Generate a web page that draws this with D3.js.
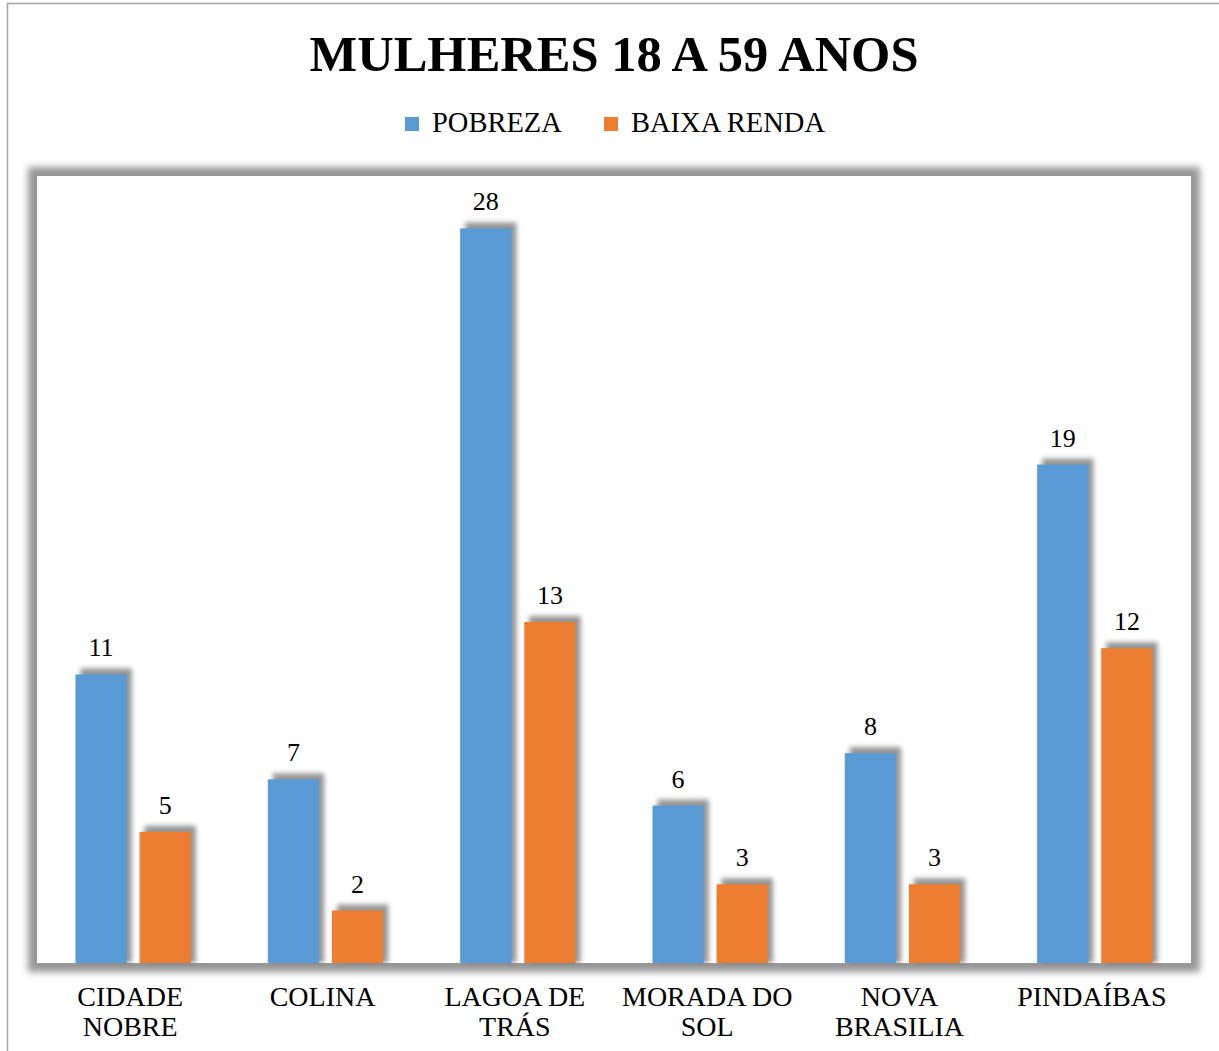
<!DOCTYPE html>
<html>
<head>
<meta charset="utf-8">
<script src="https://cdn.jsdelivr.net/npm/d3@7"></script>
<style>
  body { margin: 0; background: #fff; }
  svg text { font-family: "Liberation Serif", "Times New Roman", serif !important; fill: #000; }
</style>
</head>
<body>
<div id="chart"></div>
<script>
// data
var categories = ["CIDADE\nNOBRE", "COLINA", "LAGOA DE\nTRÁS", "MORADA DO\nSOL", "NOVA\nBRASILIA", "PINDAÍBAS"];
var seriesNames = ["POBREZA", "BAIXA RENDA"];
var pobreza = [11, 7, 28, 6, 8, 19];
var baixaRenda = [5, 2, 13, 3, 3, 12];
var colors = ["#5B9BD5", "#ED7D31"];

var width = 1219, height = 1051;
var plot = { left: 37, top: 176, right: 1191, bottom: 963 };
var serif = "'Liberation Serif', 'Times New Roman', serif";

var svg = d3.select("#chart")
  .append("svg")
  .attr("width", width)
  .attr("height", height);

var defs = svg.append("defs");
defs.append("filter").attr("id", "frameBlur")
  .attr("x", "-5%").attr("y", "-5%").attr("width", "110%").attr("height", "110%")
  .append("feGaussianBlur").attr("stdDeviation", 3.5);
defs.append("filter").attr("id", "barBlur")
  .attr("x", "-50%").attr("y", "-20%").attr("width", "200%").attr("height", "140%")
  .append("feGaussianBlur").attr("stdDeviation", 2.6);

// outer chart border (right and bottom cut off in the reference)
svg.append("rect")
  .attr("x", 7.5).attr("y", 3.5)
  .attr("width", width + 20).attr("height", height + 20)
  .attr("fill", "#fff")
  .attr("stroke", "#a3a3a3")
  .attr("stroke-width", 1.5);

// title
svg.append("text")
  .text("MULHERES 18 A 59 ANOS")
  .attr("x", 614)
  .attr("y", 71)
  .attr("text-anchor", "middle")
  .style("font-family", serif)
  .style("font-size", "50.5px")
  .style("font-weight", "bold");

// legend
var legendX = [405, 604];
seriesNames.forEach(function(name, i) {
  svg.append("rect")
    .attr("x", legendX[i]).attr("y", 117)
    .attr("width", 14).attr("height", 14)
    .attr("fill", colors[i]);
  svg.append("text")
    .text(name)
    .attr("x", legendX[i] + 27)
    .attr("y", 132)
    .style("font-family", serif)
    .style("font-size", "28.5px");
});

// plot area with its shadow frame
svg.append("rect")
  .attr("x", plot.left - 9).attr("y", plot.top - 9)
  .attr("width", plot.right - plot.left + 18)
  .attr("height", plot.bottom - plot.top + 18)
  .attr("fill", "#969696")
  .attr("filter", "url(#frameBlur)");
svg.append("rect")
  .attr("x", plot.left).attr("y", plot.top)
  .attr("width", plot.right - plot.left)
  .attr("height", plot.bottom - plot.top)
  .attr("fill", "#fff");

// scales
var x0 = d3.scaleBand()
  .domain(categories)
  .range([plot.left, plot.right])
  .paddingInner(0.4)
  .paddingOuter(0.2);

var x1 = d3.scaleBand()
  .domain(seriesNames)
  .range([0, x0.bandwidth()])
  .paddingInner(0.2);

var yScale = d3.scaleLinear()
  .domain([0, 30])
  .range([plot.bottom, plot.top]);

var rows = [];
categories.forEach(function(c, i) {
  rows.push({ cat: c, series: seriesNames[0], value: pobreza[i], color: colors[0] });
  rows.push({ cat: c, series: seriesNames[1], value: baixaRenda[i], color: colors[1] });
});

// bar shadows
svg.append("g")
  .selectAll("rect")
  .data(rows)
  .enter()
  .append("rect")
  .attr("x", function(d) { return x0(d.cat) + x1(d.series) + 5; })
  .attr("y", function(d) { return yScale(d.value) - 6; })
  .attr("width", x1.bandwidth())
  .attr("height", function(d) { return plot.bottom - yScale(d.value) + 6; })
  .attr("fill", "#7a7a7a")
  .attr("opacity", 0.8)
  .attr("filter", "url(#barBlur)");

// bars
svg.append("g")
  .selectAll("rect")
  .data(rows)
  .enter()
  .append("rect")
  .attr("x", function(d) { return x0(d.cat) + x1(d.series); })
  .attr("y", function(d) { return yScale(d.value); })
  .attr("width", x1.bandwidth())
  .attr("height", function(d) { return plot.bottom - yScale(d.value); })
  .attr("fill", function(d) { return d.color; });

// value labels
svg.append("g")
  .selectAll("text")
  .data(rows)
  .enter()
  .append("text")
  .text(function(d) { return d.value; })
  .attr("x", function(d) { return x0(d.cat) + x1(d.series) + x1.bandwidth() / 2; })
  .attr("y", function(d) { return yScale(d.value) - 18; })
  .attr("text-anchor", "middle")
  .style("font-family", serif)
  .style("font-size", "26px");

// category labels
var xAxis = d3.axisBottom(x0).tickSize(0).tickFormat("");
var axisG = svg.append("g")
  .attr("transform", "translate(0," + plot.bottom + ")")
  .call(xAxis)
  .attr("font-family", null);
axisG.select(".domain").remove();

axisG.selectAll(".tick").each(function(c) {
  var lines = c.split("\n");
  var t = d3.select(this).append("text")
    .attr("text-anchor", "middle")
    .attr("fill", "#000")
    .style("font-family", serif)
    .style("font-size", "28px");
  lines.forEach(function(line, i) {
    t.append("tspan")
      .attr("x", -3)
      .attr("y", 43 + i * 30)
      .text(line);
  });
});
</script>
</body>
</html>
